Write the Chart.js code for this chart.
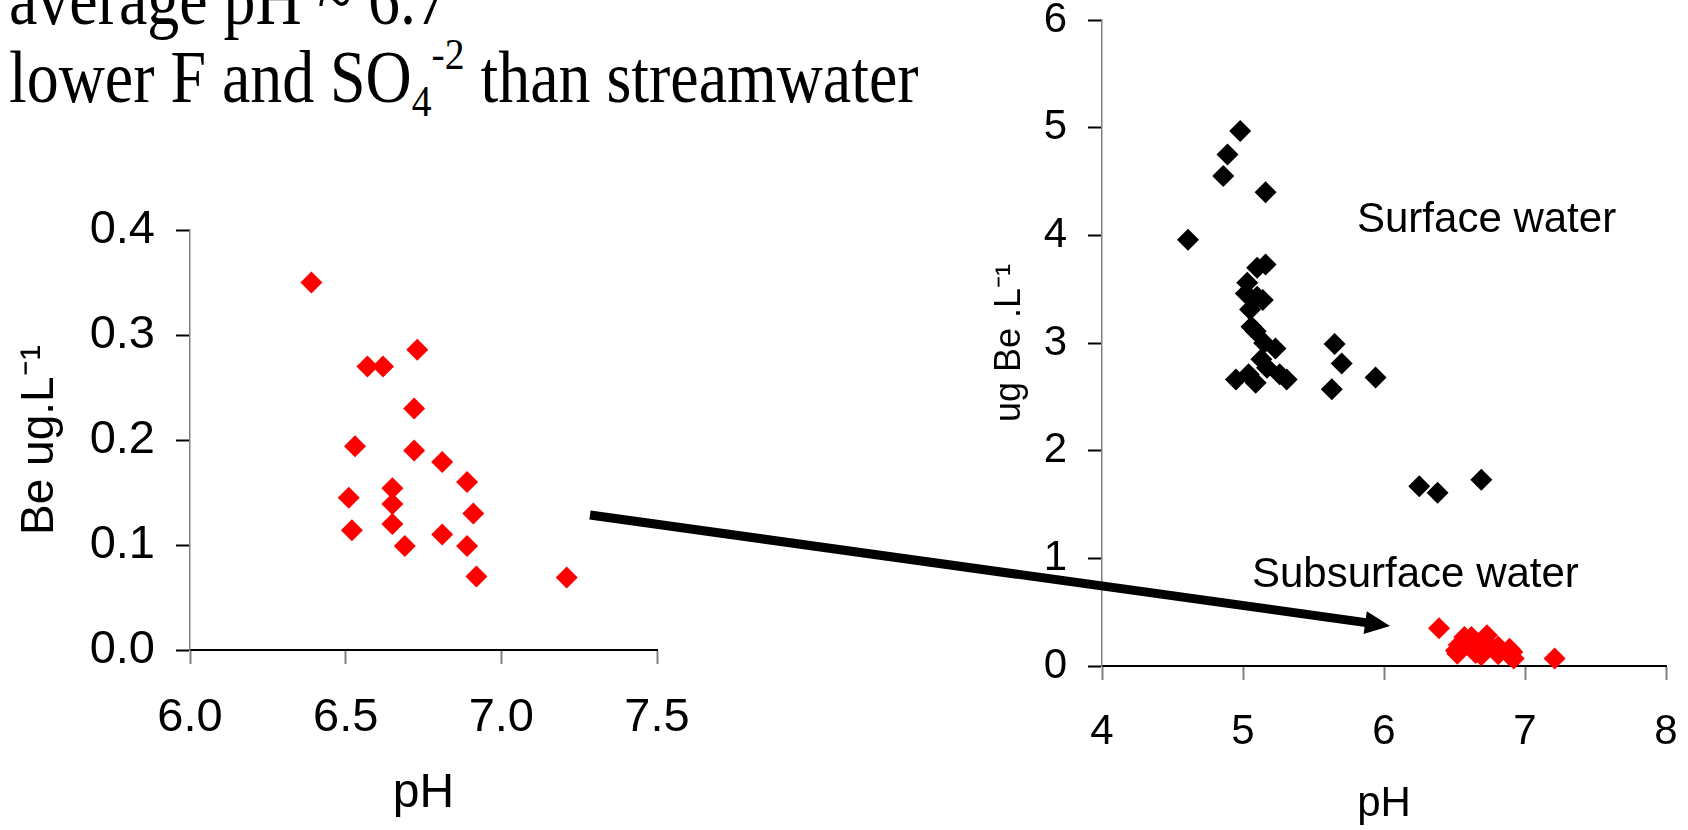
<!DOCTYPE html>
<html>
<head>
<meta charset="utf-8">
<title>Be vs pH</title>
<script src="https://cdn.jsdelivr.net/npm/chart.js"></script>
<style>
    body, html {
        margin: 0;
        padding: 0;
        width: 1688px;
        height: 830px;
        overflow: hidden;
        background: #fff;
    }
    canvas, svg {
        position: absolute;
        left: 0;
        top: 0;
    }
    .note {
        position: absolute;
        left: 9px;
        top: -39px;
        font-family: "Liberation Serif", "Times New Roman", serif;
        font-size: 73px;
        line-height: 78px;
        white-space: nowrap;
        color: #000;
        transform: scaleX(0.875);
        transform-origin: 0 0;
    }
    .note .sub { font-size: 0.62em; position: relative; top: 0.32em; line-height: 0; }
    .note .sup { font-size: 0.62em; position: relative; top: -0.72em; line-height: 0; }
    .lbl {
        position: absolute;
        font-family: "Liberation Sans", Arial, sans-serif;
        font-size: 42px;
        line-height: 42px;
        white-space: nowrap;
        color: #000;
    }
</style>
</head>
<body>
<div class="note">average pH ~ 6.7<br>lower F and SO<span class="sub">4</span><span class="sup">-2</span> than streamwater</div>
<canvas id="subChart" width="1688" height="830"></canvas>
<canvas id="allChart" width="1688" height="830"></canvas>
<div class="lbl" style="left:1357px; top:197px;">Surface water</div>
<div class="lbl" style="left:1252px; top:552px;">Subsurface water</div>
<svg width="1688" height="830">
    <line x1="590" y1="515" x2="1366" y2="622.6" stroke="#000" stroke-width="9"/>
    <polygon points="1390,626 1366.8,611.2 1363.6,634" fill="#000"/>
</svg>
<script>
    // subsurface water samples (pH, Be ug/L)
    const subPH = [6.39, 6.73, 6.57, 6.62, 6.72, 6.53, 6.72, 6.81, 6.89, 6.65,
                   6.51, 6.65, 6.91, 6.52, 6.65, 6.81, 6.69, 6.89, 6.92, 7.21];
    const subBe = [0.350, 0.286, 0.270, 0.270, 0.230, 0.194, 0.190, 0.179, 0.160, 0.154,
                   0.145, 0.139, 0.130, 0.114, 0.120, 0.110, 0.099, 0.099, 0.070, 0.069];

    // surface water samples
    const surfPH = [4.98, 4.89, 4.86, 5.16, 4.61, 5.16, 5.10, 5.03, 5.02, 5.14,
                    5.10, 5.05, 5.06, 5.09, 5.15, 5.23, 5.13, 5.17, 4.95, 5.04,
                    5.09, 5.26, 5.31, 5.65, 5.70, 5.63, 5.94, 6.25, 6.38, 6.69];
    const surfBe = [4.97, 4.75, 4.55, 4.40, 3.96, 3.73, 3.70, 3.56, 3.46, 3.40,
                    3.43, 3.31, 3.15, 3.11, 3.00, 2.95, 2.85, 2.77, 2.66, 2.71,
                    2.63, 2.71, 2.66, 2.99, 2.81, 2.57, 2.68, 1.67, 1.61, 1.73];

    const subXTicks = [6.0, 6.5, 7.0, 7.5];
    const subYTicks = [0.0, 0.1, 0.2, 0.3, 0.4];
    const allXTicks = [4, 5, 6, 7, 8];
    const allYTicks = [0, 1, 2, 3, 4, 5, 6];

    Chart.defaults.font.family = '"Liberation Sans", Arial, sans-serif';
    Chart.defaults.color = '#000';

    function toPoints(xs, ys) {
        return xs.map((x, i) => ({ x: x, y: ys[i] }));
    }

    function diamonds(data, color) {
        return {
            data: data,
            pointStyle: 'rectRot',
            pointRadius: 11,
            pointHoverRadius: 11,
            pointBackgroundColor: color,
            pointBorderWidth: 0,
            showLine: false,
            clip: false
        };
    }

    function makeOptions(c) {
        return {
            responsive: false,
            animation: false,
            events: [],
            layout: { padding: c.pad },
            plugins: { legend: { display: false }, tooltip: { enabled: false } },
            scales: {
                x: {
                    type: 'linear',
                    min: c.xTicks[0],
                    max: c.xTicks[c.xTicks.length - 1],
                    afterBuildTicks: s => { s.ticks = c.xTicks.map(v => ({ value: v })); },
                    afterFit: s => { s.height = c.xH; s.paddingLeft = 0; s.paddingRight = 0; },
                    border: { display: true, color: '#000', width: 2 },
                    grid: { drawOnChartArea: false, drawTicks: true, tickLength: 14, tickColor: '#808080', tickWidth: 2 },
                    ticks: { padding: c.xTickPad, font: { size: c.tickSize }, maxRotation: 0,
                             callback: v => v.toFixed(c.xDec) },
                    title: { display: true, text: 'pH', font: { size: c.xTitleSize }, padding: 0 }
                },
                y: {
                    type: 'linear',
                    min: c.yTicks[0],
                    max: c.yTicks[c.yTicks.length - 1],
                    afterBuildTicks: s => { s.ticks = c.yTicks.map(v => ({ value: v })); },
                    afterFit: s => { s.width = c.yW; s.paddingTop = 0; s.paddingBottom = 0; },
                    border: { display: true, color: '#808080', width: 1.5 },
                    grid: { drawOnChartArea: false, drawTicks: true, tickLength: 14, tickColor: '#000', tickWidth: 2 },
                    ticks: { padding: 21, font: { size: c.tickSize },
                             callback: v => v.toFixed(c.yDec) },
                    title: { display: true, text: c.yTitle, font: { size: c.yTitleSize }, padding: 0 }
                }
            }
        };
    }

    new Chart(document.getElementById('subChart'), {
        type: 'scatter',
        data: { datasets: [diamonds(toPoints(subPH, subBe), '#ff0000')] },
        options: makeOptions({
            pad: { left: 13, top: 230, right: 1031, bottom: 7 },
            yW: 177, xH: 173, xTickPad: 26,
            tickSize: 47, xTitleSize: 48, yTitleSize: 46,
            xTicks: subXTicks, yTicks: subYTicks, xDec: 1, yDec: 1,
            yTitle: 'Be ug.L\u207B\u00B9'
        })
    });

    new Chart(document.getElementById('allChart'), {
        type: 'scatter',
        data: {
            datasets: [
                diamonds(toPoints(surfPH, surfBe), '#000000'),
                diamonds(toPoints(subPH, subBe), '#ff0000')
            ]
        },
        options: makeOptions({
            pad: { left: 988, top: 20, right: 22, bottom: 0 },
            yW: 114, xH: 164, xTickPad: 27,
            tickSize: 42, xTitleSize: 42, yTitleSize: 36,
            xTicks: allXTicks, yTicks: allYTicks, xDec: 0, yDec: 0,
            yTitle: 'ug Be .L\u207B\u00B9'
        })
    });
</script>
</body>
</html>
